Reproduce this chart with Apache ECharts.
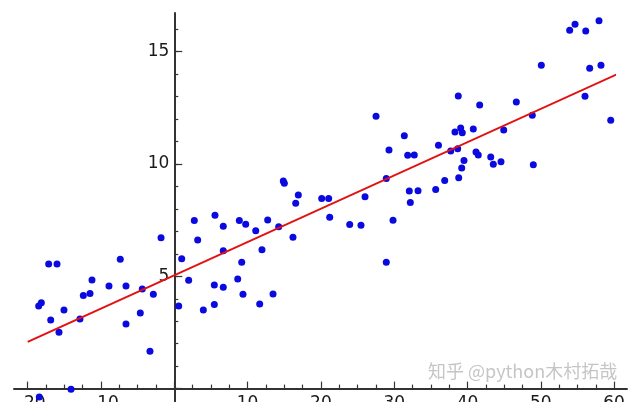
<!DOCTYPE html>
<html>
<head>
<meta charset="utf-8">
<script src="https://cdn.jsdelivr.net/npm/echarts@6/dist/echarts.min.js"></script>
<style>
html,body{margin:0;padding:0;background:#fff;}
#chart{width:640px;height:402px;}
</style>
</head>
<body>
<div id="chart"></div>
<script>
// scatter data
const pointX = [
  -18.50,-18.14,-17.14,-16.00,-16.86,-15.05,-15.73,-12.87,-12.41,-11.50,-11.23,-8.91,-7.37,-6.59,-6.59,-4.64,-4.37,-3.32,-2.86,-1.81,
  0.60,1.01,1.96,2.73,3.19,3.96,5.55,5.46,5.46,-18.42,-14.09,
  6.68,6.68,8.87,9.74,11.11,12.74,11.96,14.24,9.20,8.65,6.68,9.37,13.47,14.87,15.01,16.92,16.56,16.19,20.11,21.06,21.20,
  23.93,25.47,26.02,27.52,29.29,28.92,29.84,28.92,31.38,31.84,32.74,32.06,33.25,32.20,35.66,36.04,11.65,
  36.89,38.80,39.21,39.52,37.71,38.66,38.29,39.07,39.29,38.74,40.79,41.16,41.47,41.66,43.17,43.52,44.57,44.94,46.66,48.84,
  48.98,50.07,53.94,54.67,56.13,57.94,56.67,58.21,56.03,59.54
];
const pointY = [
  3.68,3.82,5.55,5.55,3.05,3.50,2.51,3.10,4.15,4.23,4.84,4.57,5.76,4.57,2.88,3.37,4.43,1.66,4.20,6.72,
  3.68,5.78,4.82,7.48,6.62,3.50,7.72,4.61,3.74,-0.37,-0.03,
  7.23,6.14,7.48,7.32,7.03,7.51,6.18,7.20,5.62,4.88,4.51,4.20,4.21,9.24,9.14,8.62,8.25,6.74,8.46,8.46,7.63,
  7.30,7.27,8.54,12.12,10.62,9.35,7.49,5.62,11.26,10.39,10.40,8.80,8.81,8.29,8.86,10.83,3.77,
  9.26,9.39,9.82,10.16,10.58,10.68,11.42,11.60,11.39,13.03,11.56,10.53,10.40,12.63,10.31,9.99,10.10,11.51,12.76,12.17,
  9.96,14.39,15.95,16.22,15.92,16.38,14.26,14.39,13.01,11.95
];
// fitted line end points
const fitX = [-20, 60.3];
const fitY = [2.08, 13.98];
// tick settings
const xTickStep = 10;
const yMinorStep = 1;
const yMajorStep = 5;
const watermark = '知乎 @python木村拓哉';

const axisColor = '#333';
const labelFont = { fontFamily: 'DejaVu Sans', fontSize: 17, color: '#1a1a1a' };
const fmtX = v => v === 0 ? '' : (v < 0 ? '\u2212' + (-v) : String(v));
const fmtY = v => (v % yMajorStep === 0 && v !== 0) ? String(v) : '';

const hidden = () => ({ axisLine:{show:false, onZero:false}, axisTick:{show:false}, axisLabel:{show:false}, splitLine:{show:false} });
const G = o => Object.assign({ outerBoundsMode: 'none', containLabel: false }, o);

const chart = echarts.init(document.getElementById('chart'), null, { renderer: 'canvas' });
chart.setOption({
  animation: false,
  backgroundColor: '#ffffff',
  grid: [
    G({ left: 27.7, right: 25.9, top: 29.2, bottom: 13.4 }),   // 0 data grid + x ticks
    G({ left: 14, right: 13, top: 13, bottom: 0 }),            // 1 axis lines
    G({ left: 174.3, width: 100, top: 51.7, bottom: 13.4 }),   // 2 major y ticks (at x = 0)
    G({ left: 174.3, width: 100, top: 29.2, bottom: 13.4 })    // 3 minor y ticks + labels (at x = 0)
  ],
  xAxis: [
    {
      gridIndex: 0, type: 'value', min: -20, max: 60, interval: xTickStep,
      axisLine: { show: false, onZero: false },
      axisTick: { show: true, inside: true, length: 7, lineStyle: { color: axisColor, width: 1.2 } },
      minorTick: { show: true, splitNumber: 4, length: 4, lineStyle: { color: axisColor, width: 1.2 } },
      axisLabel: Object.assign({ margin: 6, formatter: fmtX }, labelFont),
      splitLine: { show: false }
    },
    Object.assign({ gridIndex: 1, type: 'value', min: -21.9, max: 61.7 }, hidden(),
      { axisLine: { show: true, onZero: true, lineStyle: { color: axisColor, width: 2 } } }),
    Object.assign({ gridIndex: 2, type: 'value', min: 0, max: 1 }, hidden()),
    Object.assign({ gridIndex: 3, type: 'value', min: 0, max: 1 }, hidden())
  ],
  yAxis: [
    Object.assign({ gridIndex: 0, type: 'value', min: 0, max: 16 }, hidden()),
    Object.assign({ gridIndex: 1, type: 'value', min: -0.6, max: 16.7 }, hidden(),
      { axisLine: { show: true, onZero: true, lineStyle: { color: axisColor, width: 2 } } }),
    Object.assign({ gridIndex: 2, type: 'value', min: 0, max: 15, interval: yMajorStep }, hidden(),
      { axisTick: { show: true, inside: true, length: 8, lineStyle: { color: axisColor, width: 1.2 } } }),
    Object.assign({ gridIndex: 3, type: 'value', min: 0, max: 16, interval: yMinorStep }, hidden(),
      { axisTick: { show: true, inside: true, length: 4, lineStyle: { color: axisColor, width: 1.2 } },
        axisLabel: Object.assign({ show: true, margin: 5, formatter: fmtY }, labelFont) })
  ],
  series: [
    {
      type: 'scatter', xAxisIndex: 0, yAxisIndex: 0, clip: false,
      symbol: 'circle', symbolSize: 7,
      itemStyle: { color: '#0a0ae0', opacity: 1 },
      data: pointX.map((x, i) => [x, pointY[i]]),
      z: 2
    },
    {
      type: 'line', xAxisIndex: 0, yAxisIndex: 0, clip: false,
      symbol: 'none',
      lineStyle: { color: '#e31010', width: 2 },
      data: fitX.map((x, i) => [x, fitY[i]]),
      z: 3
    }
  ],
  graphic: [
    {
      type: 'text', left: 428, top: 362, silent: true, z: 10,
      style: { text: watermark, font: '18px "Noto Sans CJK SC"', fill: 'rgba(150,150,150,0.55)' }
    }
  ]
});
</script>
</body>
</html>
